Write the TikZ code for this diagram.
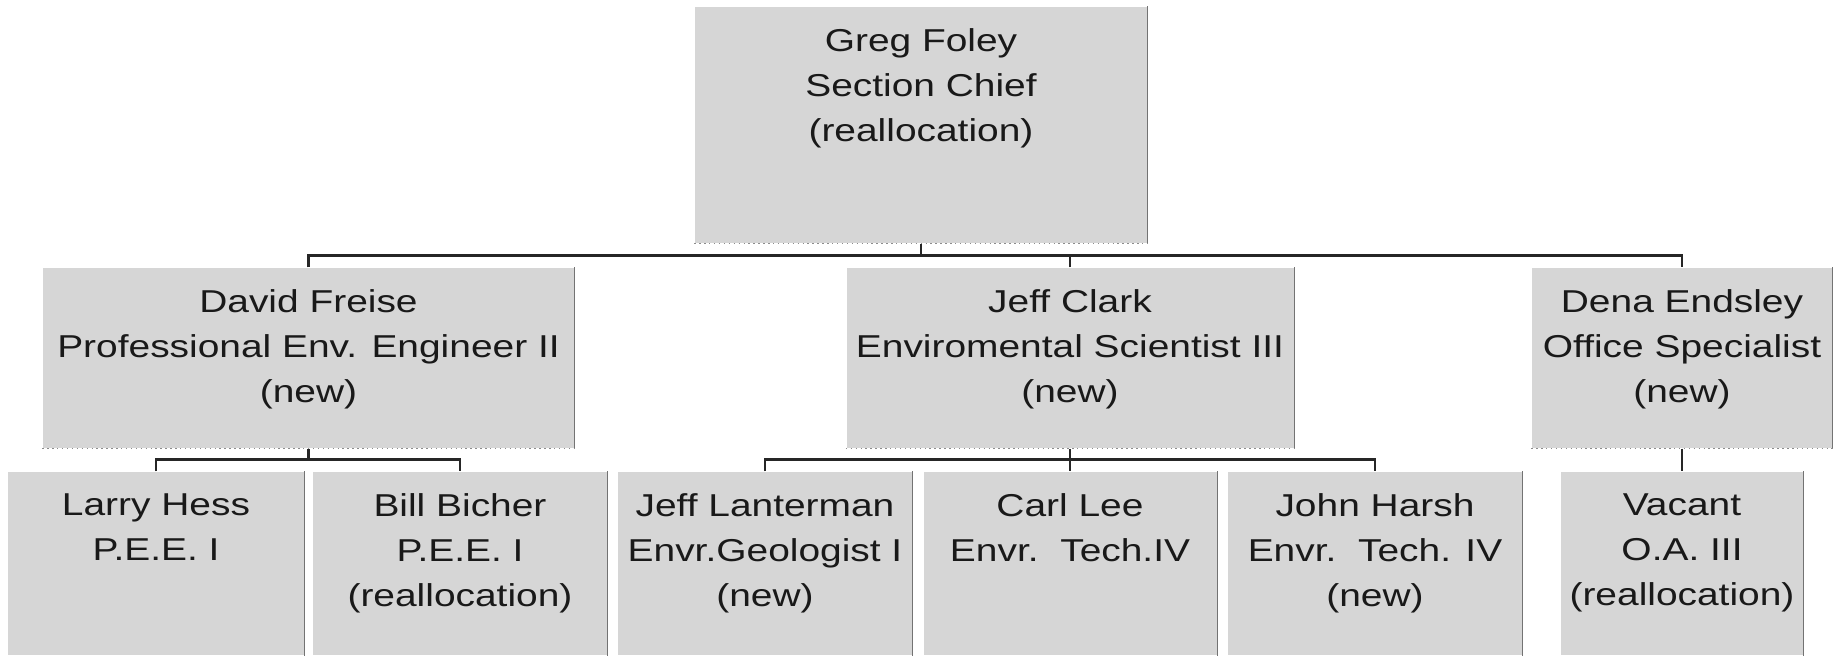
\documentclass[tikz,border=0pt]{standalone}
\usepackage{fontspec}
\newfontfamily\orgfont[FakeStretch=1.23]{Liberation Sans}
\definecolor{boxgray}{RGB}{214,214,214}
\tikzset{
  post/.style={fill=boxgray, inner sep=0pt, minimum width=#1},
  upper/.style={minimum height=1.80cm},
  lower/.style={minimum height=1.83cm},
  title/.style={anchor=north, align=center, inner sep=0.22cm, text=black!90,
    font=\orgfont\fontsize{9}{12.8}\selectfont},
  rim/.style={draw=black!55, line width=0.35pt},
  seam/.style={draw=black!45, densely dotted, line width=0.4pt},
  wire/.style={draw=black!85, line width=0.7pt},
}
\begin{document}
\begin{tikzpicture}
    \useasboundingbox (0,0) rectangle (18.39,-6.57);
    % section chief
    \node[post=4.52cm, minimum height=2.36cm, label={[title]north:Greg Foley\\Section Chief\\(reallocation)}] (chief) at (9.21,-1.25) {};
    % second row
    \node[post=5.31cm, upper, label={[title]north:David Freise\\Professional Env. Engineer II\\(new)}] (david) at (3.085,-3.58) {};
    \node[post=4.47cm, upper, label={[title]north:Jeff Clark\\Enviromental Scientist III\\(new)}] (clark) at (10.70,-3.58) {};
    \node[post=3.00cm, upper, label={[title]north:Dena Endsley\\Office Specialist\\(new)}] (dena) at (16.82,-3.58) {};
    % third row
    \node[post=2.96cm, lower, label={[title]north:Larry Hess\\P.E.E. I}] (larry) at (1.56,-5.635) {};
    \node[post=2.94cm, lower, label={[title]north:Bill Bicher\\P.E.E. I\\(reallocation)}] (bill) at (4.60,-5.635) {};
    \node[post=2.94cm, lower, label={[title]north:Jeff Lanterman\\Envr.Geologist I\\(new)}] (lanterman) at (7.65,-5.635) {};
    \node[post=2.93cm, lower, label={[title]north:Carl Lee\\Envr.\ \ Tech.IV}] (carl) at (10.70,-5.635) {};
    \node[post=2.94cm, lower, label={[title]north:John Harsh\\Envr.\ \ Tech. IV\\(new)}] (john) at (13.75,-5.635) {};
    \node[post=2.42cm, lower, label={[title]north:Vacant\\O.A. III\\(reallocation)}] (vacant) at (16.82,-5.635) {};
    % box edges
    \foreach \n in {chief,david,clark,dena,larry,bill,lanterman,carl,john,vacant}
        \draw[rim] (\n.north east) -- (\n.south east);
    \foreach \n in {chief,david,clark,dena}
        \draw[seam] (\n.south west) -- (\n.south east);
    % lines to the second row
    \draw[wire] (chief.south) -- ++(0,-0.12) coordinate (top);
    \draw[wire] (david.north) |- (top) -| (dena.north);
    \draw[wire] (clark.north) -- (clark.north |- top);
    % lines to the third row
    \draw[wire] (david.south) -- ++(0,-0.11) coordinate (left);
    \draw[wire] (larry.north) |- (left) -| (bill.north);
    \draw[wire] (clark.south) -- ++(0,-0.11) coordinate (mid);
    \draw[wire] (lanterman.north) |- (mid) -| (john.north);
    \draw[wire] (mid) -- (carl.north);
    \draw[wire] (dena.south) -- (vacant.north);
\end{tikzpicture}
\end{document}
